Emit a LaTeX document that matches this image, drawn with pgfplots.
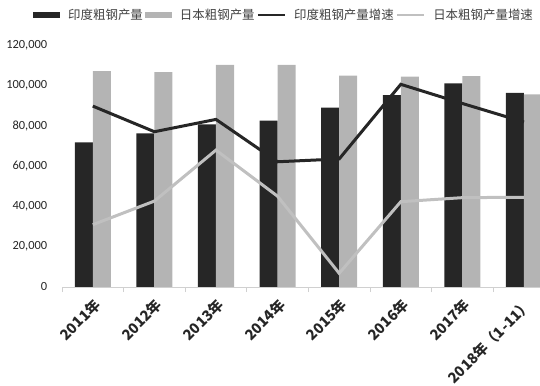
\documentclass[border=0pt]{standalone}
\usepackage{pgfplots}
\pgfplotsset{compat=1.18}
\usepackage{fontspec}
\setmainfont{Carlito}
\newfontfamily\cjk{Noto Sans CJK SC}
\definecolor{darkbar}{HTML}{262626}
\definecolor{lightbar}{HTML}{B4B4B4}
\definecolor{lightline}{HTML}{C0C0C0}
\definecolor{axisgray}{HTML}{D0D0D0}
\begin{document}
\begin{tikzpicture}
\useasboundingbox (0,0) rectangle (540bp,386bp);
\begin{axis}[
  at={(62bp,99bp)}, anchor=south west,
  scale only axis, width=492.8bp, height=242bp,
  xmin=-0.5, xmax=7.5, ymin=0, ymax=120000,
  axis x line*=bottom, axis y line*=left,
  y axis line style={draw=none},
  x axis line style={draw=axisgray, line width=1bp, -},
  ytick={0,20000,...,120000},
  ytick style={draw=none},
  scaled y ticks=false,
  yticklabel style={font=\fontsize{12.5}{14}\selectfont, text=black!85, xshift=-7bp, /pgf/number format/.cd, fixed, 1000 sep={,}, assume math mode=true},
  xtick={0,...,7},
  xticklabels={2011年,2012年,2013年,2014年,2015年,2016年,2017年,2018年（1-11）},
  major x tick style={draw=none},
  minor xtick={-0.5,0.5,...,7.5},
  minor x tick style={draw=axisgray, line width=0.8bp},
  tick align=outside, minor tick length=5bp,
  xticklabel shift=11bp,
  x tick label style={xshift=5bp, rotate=45, anchor=east, inner sep=0pt, font=\cjk\bfseries\fontsize{14.5}{16}\selectfont, text=black!85},
  legend columns=4,
  legend style={at={(axis description cs:-0.0588,1.124)}, anchor=west, draw=none, fill=none, inner sep=0pt,
     nodes={inner sep=0pt},
     font=\cjk\fontsize{12.5}{14}\selectfont, text=black!75,
     /tikz/every even column/.append style={column sep=2bp},
     /tikz/every odd column/.append style={column sep=8bp}},
  legend cell align=left,
]
\addplot[ybar, bar width=18bp, bar shift=-9bp, fill=darkbar, draw=none,
  legend image code/.code={\fill[darkbar] (0bp,-2.75bp) rectangle (27bp,2.75bp);}]
  coordinates {(0,71700) (1,76200) (2,80700) (3,82500) (4,88900) (5,95200) (6,101000) (7,96300)};
\addlegendentry{印度粗钢产量}
\addplot[ybar, bar width=18bp, bar shift=9bp, fill=lightbar, draw=none,
  legend image code/.code={\fill[lightbar] (0bp,-2.75bp) rectangle (27bp,2.75bp);}]
  coordinates {(0,107100) (1,106600) (2,110100) (3,110100) (4,104800) (5,104300) (6,104600) (7,95500)};
\addlegendentry{日本粗钢产量}
\addplot[color=darkbar, line width=3bp, sharp plot, no marks,
  legend image code/.code={\draw[darkbar, line width=2.5bp] (0bp,0bp) -- (27bp,0bp);}]
  coordinates {(0,89700) (1,77000) (2,83100) (3,62100) (4,63500) (5,100500) (6,91000) (7,81800)};
\addlegendentry{印度粗钢产量增速}
\addplot[color=lightline, line width=3bp, sharp plot, no marks,
  legend image code/.code={\draw[lightline, line width=2.5bp] (0bp,0bp) -- (27bp,0bp);}]
  coordinates {(0,30900) (1,42600) (2,67900) (3,45000) (4,6800) (5,42300) (6,44300) (7,44500)};
\addlegendentry{日本粗钢产量增速}
\end{axis}
\end{tikzpicture}
\end{document}
